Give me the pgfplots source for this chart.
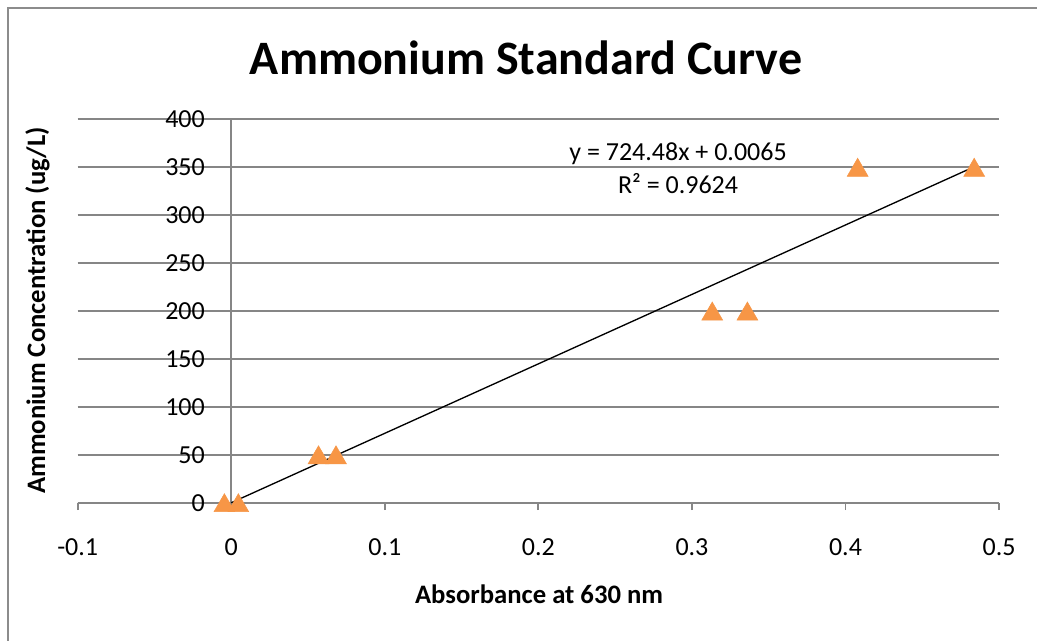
\documentclass[border=0pt]{standalone}
\usepackage{pgfplots}
\pgfplotsset{compat=1.18}
\usepackage{fontspec}
\setmainfont{Carlito}
\definecolor{xlorange}{RGB}{247,150,70}
\definecolor{xlgray}{RGB}{134,134,134}
\definecolor{framegray}{RGB}{140,140,140}
\begin{document}
\begin{tikzpicture}
\useasboundingbox (0,0) rectangle (777.75pt,480.75pt);
\fill[white] (0,0) rectangle (777.75pt,480.75pt);
\draw[framegray, line width=1.6pt] (6pt,-10pt) -- (6pt,474.75pt) -- (790pt,474.75pt);
\begin{axis}[
  at={(58.3pt,103.7pt)}, anchor=south west, scale only axis,
  width=691pt, height=287.55pt,
  xmin=-0.1, xmax=0.5, ymin=0, ymax=400,
  clip=false,
  axis x line*=bottom, axis y line*=left,
  y axis line style={draw=none},
  x axis line style={xlgray, line width=1.4pt},
  xtick={-0.1,0,0.1,0.2,0.3,0.4,0.5},
  xticklabels={-0.1,0,0.1,0.2,0.3,0.4,0.5},
  ytick={0,50,100,150,200,250,300,350,400},
  ymajorgrids,
  major grid style={xlgray, line width=1.4pt},
  tick align=outside,
  xtick style={xlgray, line width=1.4pt},
  ytick style={draw=none},
  major tick length=5.5pt,
  /pgf/number format/assume math mode=true,
  tick label style={font=\fontsize{19.5}{23}\selectfont},
  xticklabel style={anchor=base, yshift=-33.75pt},
  yticklabel style={anchor=east, inner sep=0pt, xshift=101pt},
  title={Ammonium Standard Curve},
  every axis title/.style={at={(rel axis cs:0.4866,1.1174)}, anchor=base, font=\bfseries\fontsize{36}{43}\selectfont},
  xlabel={Absorbance at 630 nm},
  every axis x label/.style={at={(rel axis cs:0.5007,-0.2629)}, anchor=base, font=\bfseries\fontsize{20}{24}\selectfont},
  ylabel={Ammonium Concentration (ug/L)},
  every axis y label/.style={at={(rel axis cs:-0.0355,0.5013)}, rotate=90, anchor=base, font=\bfseries\fontsize{20}{24}\selectfont},
]
\draw[xlgray, line width=1.4pt] (axis cs:0,0) -- (axis cs:0,400);
\addplot[black, line width=1pt] coordinates {(0,0.0065) (0.4838,350.5)};
\addplot[only marks, mark=triangle*, mark size=9pt,
  mark options={draw=xlorange, fill=xlorange, yshift=-2.25pt}] coordinates {
  (-0.0045,0) (0.0046,0)
  (0.0568,50) (0.0682,50)
  (0.3132,200) (0.3361,200)
  (0.4079,350) (0.4838,350)
};
\node[anchor=base, font=\fontsize{19.5}{23}\selectfont] at (rel axis cs:0.6516,0.8938) {y = 724.48x + 0.0065};
\node[anchor=base, font=\fontsize{19.5}{23}\selectfont] at (rel axis cs:0.6516,0.8072) {R² = 0.9624};
\end{axis}
\end{tikzpicture}
\end{document}
